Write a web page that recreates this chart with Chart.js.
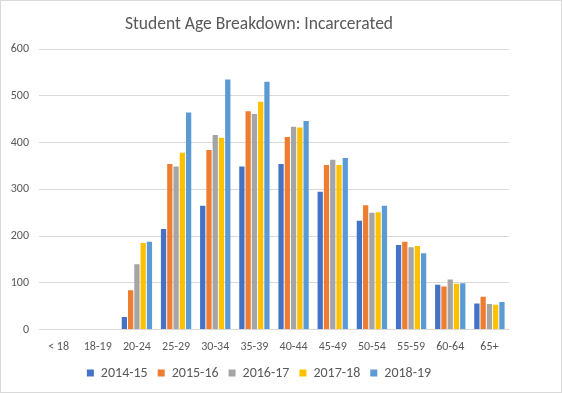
<!DOCTYPE html>
<html>
<head>
<meta charset="utf-8">
<script src="https://cdn.jsdelivr.net/npm/chart.js@4"></script>
<style>
  html, body {margin: 0; padding: 0; background: #fff;}
  #wrap {position: relative; width: 560px; height: 391px; border: 1px solid #d9d9d9;}
</style>
</head>
<body>
<div id="wrap"><canvas id="c"></canvas></div>
<script>
// Age bands on the x axis.
const ageBands = ['< 18', '18-19', '20-24', '25-29', '30-34', '35-39',
                  '40-44', '45-49', '50-54', '55-59', '60-64', '65+'];

// Number of students per school year.
const y2014 = [0, 0, 27, 215, 265, 349, 354, 295, 233, 181, 96, 56];
const y2015 = [0, 0, 84, 354, 384, 467, 412, 352, 266, 188, 92, 70];
const y2016 = [0, 0, 140, 349, 416, 461, 434, 363, 250, 176, 107, 55];
const y2017 = [0, 0, 185, 378, 410, 487, 432, 352, 251, 179, 98, 53];
const y2018 = [0, 0, 188, 464, 535, 530, 446, 367, 265, 163, 99, 59];

const seriesNames = ['2014-15', '2015-16', '2016-17', '2017-18', '2018-19'];
const seriesData = [y2014, y2015, y2016, y2017, y2018];
const colors = ['#4472c4', '#ed7d31', '#a5a5a5', '#ffc000', '#5b9bd5'];

const fontFamily = "Carlito, Calibri, 'Open Sans', sans-serif";
const grey = '#595959';

new Chart(document.getElementById('c'), {
    type: 'bar',
    data: {
        labels: ageBands,
        datasets: seriesNames.map((n, i) => ({
            label: n,
            data: seriesData[i],
            backgroundColor: colors[i],
            borderWidth: 0,
            barPercentage: 0.84,
            categoryPercentage: 0.8,
        })),
    },
    options: {
        responsive: true,
        maintainAspectRatio: false,
        animation: false,
        layout: {padding: {left: 8, right: 52, top: 13, bottom: 2}},
        scales: {
            x: {
                grid: {display: false},
                border: {color: '#d9d9d9'},
                ticks: {color: grey, font: {family: fontFamily, size: 12}, padding: 2},
            },
            y: {
                min: 0, max: 600,
                afterFit: s => { s.width = 30; },
                grid: {color: '#d9d9d9', drawTicks: false},
                border: {display: false},
                ticks: {stepSize: 100, color: grey, font: {family: fontFamily, size: 12}, padding: 10},
            },
        },
        plugins: {
            title: {
                display: true,
                text: 'Student Age Breakdown: Incarcerated',
                color: grey,
                font: {family: fontFamily, size: 17.5, weight: 'normal'},
                padding: {top: 0, bottom: 14},
            },
            legend: {
                position: 'bottom',
                labels: {
                    color: grey,
                    font: {family: fontFamily, size: 14},
                    boxWidth: 7, boxHeight: 7,
                    padding: 10,
                },
            },
            tooltip: {enabled: false},
        },
    },
});
</script>
</body>
</html>
